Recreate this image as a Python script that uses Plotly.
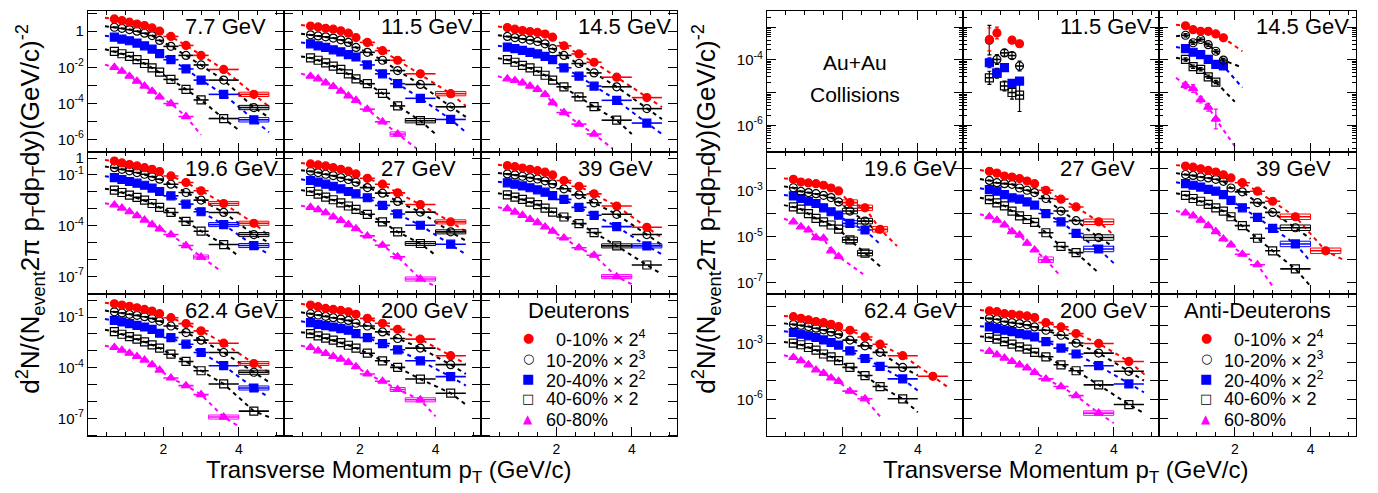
import plotly.graph_objects as go

# The page body has an 8px margin; the figure is sized so that page pixels match the target.
PAGE_W, PAGE_H = 1378, 493
OFF = 8
WF, HF = PAGE_W - 2 * OFF, PAGE_H - 2 * OFF
FONT = "Liberation Sans, Arial, Helvetica, sans-serif"

# ---------------- data (log10 of yield) ----------------
PT = [0.7, 0.9, 1.1, 1.3, 1.5, 1.7, 1.9, 2.2, 2.6, 3.0, 3.6, 4.4]
PT_HALF = [0.1, 0.1, 0.1, 0.1, 0.1, 0.1, 0.1, 0.2, 0.2, 0.2, 0.4, 0.4]

CENT_TEXT = ["\u00a0\u00a00-10% \u00d7 2<sup>4</sup>", "10-20% \u00d7 2<sup>3</sup>",
             "20-40% \u00d7 2<sup>2</sup>", "40-60% \u00d7 2", "60-80%"]
COLORS = ["#ff0000", "#000000", "#0000ff", "#000000", "#ff00ff"]
SYMBOLS = ["circle", "circle-open", "square", "square-open", "triangle-up"]
GLYPHS = ["\u25cf", "\u25cb", "\u25a0", "\u25a1", "\u25b2"]

# Deuterons: 5 centralities per energy
D_7p7 = [
    [0.68, 0.59, 0.50, 0.40, 0.31, 0.18, 0.00, -0.29, -0.79, -1.34, -2.12, -3.50],
    [0.22, 0.16, 0.09, 0.00, -0.11, -0.24, -0.51, -0.84, -1.34, -1.87, -2.71, -4.23],
    [-0.33, -0.44, -0.53, -0.66, -0.81, -0.99, -1.24, -1.58, -2.09, -2.71, -3.50, -4.91],
    [-1.12, -1.25, -1.39, -1.58, -1.79, -2.03, -2.27, -2.67, -3.22, -3.81, -4.84],
    [-2.00, -2.22, -2.49, -2.77, -3.04, -3.32, -3.64, -4.01, -4.73],
]
D_11p5 = [
    [0.29, 0.24, 0.16, 0.11, 0.02, -0.11, -0.35, -0.62, -1.08, -1.61, -2.36, -3.46],
    [-0.20, -0.26, -0.31, -0.38, -0.48, -0.62, -0.90, -1.17, -1.61, -2.18, -2.95, -4.19],
    [-0.70, -0.81, -0.90, -1.03, -1.15, -1.30, -1.43, -1.87, -2.36, -2.91, -3.72, -4.89],
    [-1.48, -1.61, -1.76, -1.94, -2.12, -2.36, -2.64, -2.91, -3.44, -4.14, -4.96],
    [-2.49, -2.64, -2.86, -3.06, -3.32, -3.59, -3.83, -4.32, -5.02, -5.70],
]
D_14p5 = [
    [0.20, 0.11, 0.04, -0.02, -0.07, -0.16, -0.33, -0.81, -1.26, -1.72, -2.55, -3.68],
    [-0.29, -0.35, -0.42, -0.49, -0.57, -0.70, -0.97, -1.34, -1.79, -2.31, -3.08, -4.29],
    [-0.88, -0.97, -1.06, -1.17, -1.26, -1.39, -1.58, -2.03, -2.49, -3.04, -3.83, -5.09],
    [-1.58, -1.72, -1.89, -2.03, -2.22, -2.44, -2.71, -3.08, -3.64, -4.18, -4.93],
    [-2.64, -2.73, -2.86, -3.04, -3.22, -3.50, -3.96, -4.51, -5.15, -5.70],
]
D_19p6 = [
    [-0.18, -0.29, -0.39, -0.47, -0.57, -0.67, -0.80, -1.06, -1.45, -1.94, -2.69, -3.86],
    [-0.57, -0.67, -0.76, -0.86, -0.96, -1.10, -1.25, -1.55, -2.04, -2.49, -3.22, -4.53],
    [-1.16, -1.27, -1.39, -1.49, -1.61, -1.78, -1.98, -2.24, -2.73, -3.18, -3.94, -5.18],
    [-1.90, -2.04, -2.20, -2.33, -2.49, -2.69, -2.92, -3.22, -3.75, -4.33, -5.12],
    [-2.78, -2.96, -3.18, -3.41, -3.67, -3.94, -4.20, -4.53, -5.18, -5.86],
]
D_27 = [
    [-0.35, -0.41, -0.47, -0.57, -0.67, -0.78, -0.94, -1.20, -1.55, -2.06, -2.75, -3.78],
    [-0.78, -0.86, -0.96, -1.04, -1.16, -1.27, -1.43, -1.75, -2.08, -2.57, -3.20, -4.37],
    [-1.33, -1.43, -1.55, -1.67, -1.82, -1.98, -2.12, -2.35, -2.80, -3.31, -3.98, -5.10],
    [-1.98, -2.14, -2.31, -2.47, -2.65, -2.84, -3.04, -3.33, -3.78, -4.37, -5.06],
    [-2.92, -3.06, -3.24, -3.49, -3.69, -3.94, -4.18, -4.61, -5.16, -5.84, -7.16],
]
D_39 = [
    [-0.45, -0.51, -0.59, -0.67, -0.75, -0.84, -1.00, -1.33, -1.67, -2.12, -2.84, -4.10],
    [-0.94, -1.00, -1.08, -1.16, -1.24, -1.35, -1.53, -1.82, -2.18, -2.65, -3.33, -4.53],
    [-1.47, -1.55, -1.65, -1.76, -1.88, -2.02, -2.22, -2.45, -2.92, -3.39, -4.06, -5.20],
    [-2.18, -2.31, -2.45, -2.61, -2.76, -2.96, -3.20, -3.49, -3.88, -4.41, -5.20, -6.33],
    [-3.00, -3.20, -3.39, -3.63, -3.82, -4.08, -4.33, -4.73, -5.31, -5.75, -7.02],
]
D_62p4 = [
    [-0.22, -0.29, -0.37, -0.45, -0.55, -0.65, -0.80, -1.04, -1.39, -1.82, -2.55, -3.75],
    [-0.69, -0.76, -0.84, -0.90, -0.98, -1.08, -1.24, -1.53, -1.92, -2.37, -3.10, -4.27],
    [-1.20, -1.29, -1.39, -1.49, -1.59, -1.73, -1.96, -2.22, -2.61, -3.10, -3.88, -5.20],
    [-1.86, -2.02, -2.16, -2.31, -2.47, -2.65, -2.84, -3.20, -3.63, -4.18, -4.96, -6.57],
    [-2.80, -2.96, -3.14, -3.33, -3.55, -3.82, -4.14, -4.61, -5.06, -5.59, -6.92],
]
D_200 = [
    [-0.29, -0.39, -0.49, -0.55, -0.61, -0.69, -0.84, -1.08, -1.37, -1.73, -2.31, -3.29],
    [-0.80, -0.88, -0.96, -1.04, -1.12, -1.20, -1.37, -1.53, -1.88, -2.27, -2.84, -3.82],
    [-1.33, -1.43, -1.51, -1.59, -1.69, -1.78, -1.98, -2.22, -2.57, -2.94, -3.59, -4.53],
    [-1.98, -2.12, -2.25, -2.37, -2.51, -2.67, -2.84, -3.14, -3.59, -3.98, -4.67, -5.51],
    [-2.80, -3.00, -3.16, -3.33, -3.49, -3.69, -3.94, -4.37, -4.80, -5.29, -5.90],
]

# Blast-wave fit curves: [log10 value at pT=0.45, end pT, log10 value at end]
FD_7p7 = [[0.75, 4.8, -4.17], [0.28, 4.8, -4.78], [-0.25, 4.8, -5.60], [-1.00, 4.0, -5.48], [-1.85, 3.0, -5.75]]
FD_11p5 = [[0.35, 4.8, -4.15], [-0.14, 4.8, -4.75], [-0.62, 4.8, -5.60], [-1.40, 4.0, -5.70], [-2.35, 3.5, -6.50]]
FD_14p5 = [[0.26, 4.8, -4.20], [-0.22, 4.8, -4.87], [-0.80, 4.8, -5.70], [-1.50, 4.0, -5.70], [-2.50, 3.5, -6.52]]
FD_19p6 = [[-0.12, 4.8, -4.60], [-0.50, 4.8, -5.00], [-1.08, 4.8, -5.70], [-1.82, 4.0, -5.82], [-2.68, 3.5, -6.65]]
FD_27 = [[-0.30, 4.8, -4.35], [-0.72, 4.8, -4.90], [-1.26, 4.8, -5.70], [-1.90, 4.0, -5.75], [-2.82, 4.0, -7.60]]
FD_39 = [[-0.40, 4.8, -4.73], [-0.88, 4.8, -5.15], [-1.40, 4.8, -5.70], [-2.08, 4.8, -6.88], [-2.92, 4.0, -7.47]]
FD_62p4 = [[-0.15, 4.8, -4.27], [-0.62, 4.8, -4.85], [-1.12, 4.8, -5.75], [-1.76, 4.8, -6.92], [-2.70, 4.0, -7.47]]
FD_200 = [[-0.22, 4.8, -3.78], [-0.72, 4.8, -4.37], [-1.25, 4.8, -5.06], [-1.90, 4.8, -6.18], [-2.70, 4.0, -6.88]]

# Anti-deuterons
A_11p5 = [
    [-3.38, -3.18, None, -3.40, -3.51],
    [-3.40, -3.99, -3.79, -3.87, -4.19],
    [-4.09, -4.41, -4.24, -4.72, -4.65],
    [-4.55, -4.41, -4.80, -5.00, -5.08],
    [],
]
AE_11p5 = [
    [0.35, 0.18, None, 0.10, 0.10],
    [0.45, 0.15, 0.10, 0.10, 0.15],
    [0.15, 0.10, 0.10, 0.10, 0.10],
    [0.20, 0.15, 0.15, 0.20, 0.50],
    [],
]
A_14p5 = [
    [-2.96, -3.08, -3.13, -3.13, -3.21, -3.33],
    [-3.25, -3.48, -3.38, -3.54, -3.74, -4.01],
    [-3.66, -3.77, -3.84, -3.99, -4.14, -4.19],
    [-3.99, -4.21, -4.29, -4.52, -4.68],
    [-4.78, -4.88, -5.22, -5.45, -5.81],
]
AE_14p5 = [
    [0.05, 0.05, 0.05, 0.05, 0.05, 0.05],
    [0.05, 0.05, 0.05, 0.05, 0.05, 0.05],
    [0.05, 0.05, 0.05, 0.05, 0.05, 0.05],
    [0.05, 0.05, 0.05, 0.05, 0.05],
    [0.10, 0.12, 0.10, 0.12, 0.30],
]
A_19p6 = [
    [-2.49, -2.61, -2.65, -2.68, -2.75, -2.87, -3.00, -3.51, -3.74, -4.68],
    [-2.86, -3.02, -3.07, -3.12, -3.19, -3.29, -3.48, -3.88, -4.32],
    [-3.22, -3.33, -3.45, -3.55, -3.74, -3.91, -4.06, -4.42, -4.71],
    [-3.70, -3.80, -3.99, -4.20, -4.35, -4.49, -4.67, -5.14, -5.72],
    [-4.35, -4.57, -4.71, -5.04, -5.07, -5.62, -5.87],
]
A_27 = [
    [-2.14, -2.22, -2.35, -2.39, -2.46, -2.57, -2.68, -2.97, -3.36, -3.70, -4.35],
    [-2.54, -2.64, -2.68, -2.71, -2.87, -2.97, -3.07, -3.33, -3.88, -4.30, -5.04],
    [-2.94, -3.01, -3.16, -3.30, -3.36, -3.48, -3.62, -3.99, -4.35, -4.86, -5.54],
    [-3.38, -3.52, -3.65, -3.88, -4.09, -4.25, -4.38, -4.83, -5.43, -5.70],
    [-4.13, -4.28, -4.49, -4.78, -4.93, -5.29, -5.58, -6.01],
]
A_39 = [
    [-1.91, -1.96, -2.03, -2.10, -2.17, -2.29, -2.43, -2.64, -3.01, -3.45, -4.13, -5.62],
    [-2.28, -2.32, -2.39, -2.43, -2.49, -2.58, -2.87, -3.04, -3.51, -3.94, -4.61],
    [-2.68, -2.75, -2.83, -2.93, -3.01, -3.16, -3.41, -3.74, -4.16, -4.64, -5.32],
    [-3.19, -3.33, -3.45, -3.59, -3.74, -3.88, -4.13, -4.52, -5.07, -5.62, -6.41],
    [-3.96, -4.09, -4.28, -4.52, -4.78, -5.10, -5.36, -5.77, -6.23],
]
A_62p4 = [
    [-1.54, -1.63, -1.71, -1.80, -1.86, -1.95, -2.07, -2.27, -2.63, -3.02, -3.64, -4.75],
    [-1.95, -2.00, -2.07, -2.16, -2.25, -2.36, -2.48, -2.80, -3.11, -3.46, -4.27],
    [-2.39, -2.48, -2.57, -2.66, -2.79, -2.93, -3.07, -3.38, -3.79, -4.21, -4.89],
    [-2.96, -3.05, -3.20, -3.34, -3.55, -3.70, -3.91, -4.27, -4.71, -5.30, -5.96],
    [-3.73, -3.91, -4.13, -4.41, -4.59, -4.84, -5.02, -5.55, -5.96],
]
A_200 = [
    [-1.23, -1.27, -1.38, -1.41, -1.45, -1.50, -1.59, -1.86, -2.09, -2.45, -2.98, -3.95],
    [-1.63, -1.68, -1.80, -1.86, -1.91, -1.98, -2.09, -2.27, -2.54, -2.96, -3.50, -4.48],
    [-2.09, -2.18, -2.27, -2.34, -2.45, -2.52, -2.63, -2.88, -3.23, -3.55, -4.18, -5.16],
    [-2.66, -2.75, -2.88, -3.02, -3.16, -3.29, -3.46, -3.70, -4.13, -4.45, -5.21, -6.27],
    [-3.41, -3.59, -3.77, -3.95, -4.13, -4.30, -4.54, -4.89, -5.30, -5.79, -6.73],
]

FA_14p5 = [[-2.93, 2.2, -3.74], [-3.28, 2.2, -4.24], [-3.61, 2.2, -4.85], [-3.94, 2.0, -5.28], [-4.55, 2.0, -6.64]]
FA_19p6 = [[-2.45, 3.45, -5.41], [-2.80, 3.0, -4.90], [-3.18, 3.0, -5.33], [-3.62, 3.0, -6.30], [-4.22, 2.55, -6.64]]
FA_27 = [[-2.08, 4.0, -4.93], [-2.48, 4.0, -5.45], [-2.88, 4.0, -6.16], [-3.30, 3.6, -6.59], [-4.02, 2.6, -6.75]]
FA_39 = [[-1.87, 4.85, -6.00], [-2.22, 4.0, -5.10], [-2.62, 4.0, -6.09], [-3.10, 4.0, -7.17], [-3.88, 3.0, -7.17]]
FA_62p4 = [[-1.50, 4.8, -5.34], [-1.90, 4.0, -4.70], [-2.32, 4.0, -5.52], [-2.90, 4.0, -6.68], [-3.62, 3.0, -6.91]]
FA_200 = [[-1.18, 4.85, -4.71], [-1.60, 4.8, -4.98], [-2.05, 4.8, -5.61], [-2.60, 4.8, -6.73], [-3.35, 4.0, -7.27]]

# points drawn with a systematic-error box: (series index, point index)
SB_D_7p7 = [(0, 11), (1, 11), (2, 11)]
SB_D_11p5 = [(0, 11), (3, 10), (4, 9)]
SB_D_14p5 = []
SB_D_19p6 = [(0, 10), (0, 11), (1, 11), (2, 10), (2, 11), (4, 9)]
SB_D_27 = [(0, 11), (1, 11), (3, 10), (4, 10)]
SB_D_39 = [(2, 11), (3, 10), (4, 10)]
SB_D_62p4 = [(0, 11), (1, 11), (2, 11), (4, 10)]
SB_D_200 = [(4, 9), (4, 10)]
SB_A_19p6 = [(0, 7), (0, 8), (0, 9), (1, 7), (1, 8), (2, 7), (3, 7), (3, 8)]
SB_A_27 = [(0, 10), (1, 10), (2, 10), (4, 7)]
SB_A_39 = [(0, 10), (0, 11), (1, 10), (2, 10)]
SB_A_200 = [(4, 10)]
SYS_HALF_DEC = 0.12

# panel assignments: (grid, row, col, label, data, fits, log-errors, sys-boxes)
PANELS = [
    (0, 0, 0, "7.7 GeV", D_7p7, FD_7p7, None, SB_D_7p7),
    (0, 0, 1, "11.5 GeV", D_11p5, FD_11p5, None, SB_D_11p5),
    (0, 0, 2, "14.5 GeV", D_14p5, FD_14p5, None, SB_D_14p5),
    (0, 1, 0, "19.6 GeV", D_19p6, FD_19p6, None, SB_D_19p6),
    (0, 1, 1, "27 GeV", D_27, FD_27, None, SB_D_27),
    (0, 1, 2, "39 GeV", D_39, FD_39, None, SB_D_39),
    (0, 2, 0, "62.4 GeV", D_62p4, FD_62p4, None, SB_D_62p4),
    (0, 2, 1, "200 GeV", D_200, FD_200, None, SB_D_200),
    (1, 0, 1, "11.5 GeV", A_11p5, None, AE_11p5, []),
    (1, 0, 2, "14.5 GeV", A_14p5, FA_14p5, AE_14p5, []),
    (1, 1, 0, "19.6 GeV", A_19p6, FA_19p6, None, SB_A_19p6),
    (1, 1, 1, "27 GeV", A_27, FA_27, None, SB_A_27),
    (1, 1, 2, "39 GeV", A_39, FA_39, None, SB_A_39),
    (1, 2, 0, "62.4 GeV", A_62p4, FA_62p4, None, []),
    (1, 2, 1, "200 GeV", A_200, FA_200, None, SB_A_200),
]

# ---------------- layout geometry (page pixels) ----------------
GRID_X = [[88, 284, 481, 677], [767, 963, 1159, 1356]]
ROW_Y = [8, 150, 293, 436]
YRANGE = [[(-6.7, 1.12), (-8.06, 0.35), (-8.06, 0.35)],
          [(-6.82, -2.51), (-7.52, -1.30), (-7.98, -0.33)]]
YLABELS = [[{0: "1", -2: "10<sup>-2</sup>", -4: "10<sup>-4</sup>", -6: "10<sup>-6</sup>"},
            {0: "1", -1: "10<sup>-1</sup>", -4: "10<sup>-4</sup>", -7: "10<sup>-7</sup>"},
            {-1: "10<sup>-1</sup>", -4: "10<sup>-4</sup>", -7: "10<sup>-7</sup>"}],
           [{-4: "10<sup>-4</sup>", -6: "10<sup>-6</sup>"},
            {-3: "10<sup>-3</sup>", -5: "10<sup>-5</sup>", -7: "10<sup>-7</sup>"},
            {-3: "10<sup>-3</sup>", -6: "10<sup>-6</sup>"}]]


def PX(x):
    return min(1.0, max(0.0, (x - OFF) / WF))


def PY(y):
    return min(1.0, max(0.0, 1 - (y - OFF) / HF))


def pidx(g, r, c):
    return g * 9 + r * 3 + c + 1


def axname(n, letter):
    return letter if n == 1 else f"{letter}{n}"


fig = go.Figure()
layout = {}

for g in range(2):
    for r in range(3):
        for c in range(3):
            n = pidx(g, r, c)
            xd = [PX(GRID_X[g][c]), PX(GRID_X[g][c + 1])]
            yd = [PY(ROW_Y[r + 1]), PY(ROW_Y[r])]
            lo, hi = YRANGE[g][r]
            decs = [k for k in range(int(lo) - 1, int(hi) + 2) if lo <= k <= hi]
            labs = YLABELS[g][r]
            major = [k for k in decs if k in labs]
            unl = [10.0 ** k for k in decs if k not in labs]
            if g == 1 and r == 0:
                ymajor = decs
                ytext = [labs.get(k, " ") for k in decs]
                yminor = dict(ticks="inside", ticklen=4, tickcolor="black", tickwidth=1,
                              tickvals=[m * 10.0 ** k for k in range(-8, 0) for m in range(2, 10)])
            else:
                ymajor = major
                ytext = [labs[k] for k in major]
                yminor = dict(ticks="inside", ticklen=9, tickcolor="black", tickwidth=1, tickvals=unl)
            layout["xaxis" if n == 1 else f"xaxis{n}"] = dict(
                domain=xd, anchor=axname(n, "y"), range=[0, 5.2],
                tickvals=[2, 4], ticktext=["2", "4"], showticklabels=(r == 2),
                ticks="inside", ticklen=9, tickwidth=1, tickcolor="black",
                minor=dict(dtick=0.5, tick0=0, ticks="inside", ticklen=4, tickcolor="black", tickwidth=1),
                showline=True, linecolor="black", linewidth=1.2, mirror="allticks",
                showgrid=False, zeroline=False,
                tickfont=dict(family=FONT, size=14, color="black"),
            )
            layout["yaxis" if n == 1 else f"yaxis{n}"] = dict(
                domain=yd, anchor=axname(n, "x"), type="log", range=[lo, hi],
                tickvals=[10.0 ** k for k in ymajor], ticktext=ytext,
                showticklabels=(c == 0),
                ticks="inside", ticklen=9, tickwidth=1, tickcolor="black",
                minor=yminor,
                showline=True, linecolor="black", linewidth=1.2, mirror="allticks",
                showgrid=False, zeroline=False,
                tickfont=dict(family=FONT, size=15, color="black"),
            )
            # empty trace so every subplot is created
            fig.add_trace(go.Scatter(x=[None], y=[None], xaxis=axname(n, "x"), yaxis=axname(n, "y"),
                                     showlegend=False, hoverinfo="skip"))


def lin(v):
    return None if v is None else 10.0 ** v


annotations = []
for (g, r, c, label, data, fits, errs, boxes) in PANELS:
    n = pidx(g, r, c)
    ax, ay = axname(n, "x"), axname(n, "y")
    # fit curves
    if fits is not None:
        for i, vals in enumerate(data):
            if not vals:
                continue
            y0, xe, ye = fits[i]
            xs = [0.45] + [x for x, v in zip(PT, vals) if v is not None] + [xe]
            ys = [lin(y0)] + [lin(v) for v in vals if v is not None] + [lin(ye)]
            fig.add_trace(go.Scatter(x=xs, y=ys, mode="lines", xaxis=ax, yaxis=ay,
                                     line=dict(color=COLORS[i], width=2, dash="4px,4px"),
                                     showlegend=False, hoverinfo="skip"))
    # systematic-error boxes
    for (i, k) in boxes:
        v = data[i][k]
        x0, x1 = PT[k] - PT_HALF[k], PT[k] + PT_HALF[k]
        ylo, yhi = lin(v - SYS_HALF_DEC), lin(v + SYS_HALF_DEC)
        fig.add_trace(go.Scatter(x=[x0, x1, x1, x0, x0], y=[ylo, ylo, yhi, yhi, ylo], mode="lines",
                                 xaxis=ax, yaxis=ay, line=dict(color=COLORS[i], width=1),
                                 showlegend=False, hoverinfo="skip"))
    # data points
    for i in range(len(data) - 1, -1, -1):
        vals = data[i]
        if not vals:
            continue
        m = len(vals)
        ys = [lin(v) for v in vals]
        err_y = dict(visible=False)
        if errs is not None and errs[i]:
            up, dn = [], []
            for v, e in zip(vals, errs[i]):
                if v is None or e is None:
                    up.append(0)
                    dn.append(0)
                else:
                    up.append(10 ** (v + e) - 10 ** v)
                    dn.append(10 ** v - 10 ** (v - e))
            err_y = dict(type="data", array=up, arrayminus=dn, symmetric=False,
                         color=COLORS[i], thickness=1.2, width=2)
        fig.add_trace(go.Scatter(
            x=PT[:m], y=ys, mode="markers", xaxis=ax, yaxis=ay,
            marker=dict(symbol=SYMBOLS[i], size=8, color=COLORS[i],
                        line=dict(color=COLORS[i], width=1.2)),
            error_x=dict(type="data", array=PT_HALF[:m], color=COLORS[i], thickness=1.6, width=0),
            error_y=err_y,
            showlegend=False, hoverinfo="skip"))
    annotations.append(dict(text=label, xref="paper", yref="paper",
                            x=PX(GRID_X[g][c] + 95), y=PY(ROW_Y[r] + 16),
                            xanchor="left", yanchor="middle", showarrow=False,
                            font=dict(family=FONT, size=22, color="black")))

# legend boxes (text) in the last panel of each grid
for g, title in ((0, "Deuterons"), (1, "Anti-Deuterons")):
    left = GRID_X[g][2]
    cx = (GRID_X[g][2] + GRID_X[g][3]) / 2
    annotations.append(dict(text=title, xref="paper", yref="paper", x=PX(cx), y=PY(309),
                            xanchor="center", yanchor="middle", showarrow=False,
                            font=dict(family=FONT, size=22, color="black")))
    for i in range(5):
        yy = 337 + 20.3 * i
        annotations.append(dict(text=GLYPHS[i], xref="paper", yref="paper", x=PX(left + 47),
                                y=PY(yy), xanchor="center", yanchor="middle", showarrow=False,
                                font=dict(family="DejaVu Sans", size=13 if i != 4 else 12, color=COLORS[i])))
        annotations.append(dict(text=CENT_TEXT[i], xref="paper", yref="paper", x=PX(left + 63),
                                y=PY(yy + 1), xanchor="left", yanchor="middle", showarrow=False,
                                font=dict(family=FONT, size=18, color="black")))

# Au+Au Collisions
annotations.append(dict(text="Au+Au", xref="paper", yref="paper", x=PX(855), y=PY(60),
                        xanchor="center", yanchor="middle", showarrow=False,
                        font=dict(family=FONT, size=21, color="black")))
annotations.append(dict(text="Collisions", xref="paper", yref="paper", x=PX(855), y=PY(92),
                        xanchor="center", yanchor="middle", showarrow=False,
                        font=dict(family=FONT, size=21, color="black")))

YTITLE = "d<sup>2</sup>N/(N<sub>event</sub>2\u03c0 p<sub>T</sub>dp<sub>T</sub>dy)(GeV/c)<sup>-2</sup>"
XTITLE = "Transverse Momentum p<sub>T</sub> (GeV/c)"
for xc in (30, 706):
    annotations.append(dict(text=YTITLE, xref="paper", yref="paper", x=PX(xc), y=PY(207),
                            xanchor="center", yanchor="middle", textangle=-90, showarrow=False,
                            font=dict(family=FONT, size=26, color="black")))
for xc in (388, 1065):
    annotations.append(dict(text=XTITLE, xref="paper", yref="paper", x=PX(xc), y=PY(471),
                            xanchor="center", yanchor="middle", showarrow=False,
                            font=dict(family=FONT, size=24, color="black")))

layout.update(dict(
    width=WF, height=HF, margin=dict(l=0, r=0, t=0, b=0),
    paper_bgcolor="white", plot_bgcolor="white",
    showlegend=False, annotations=annotations,
    font=dict(family=FONT, color="black"),
))
fig.update_layout(**layout)
fig.write_html("out.html")
